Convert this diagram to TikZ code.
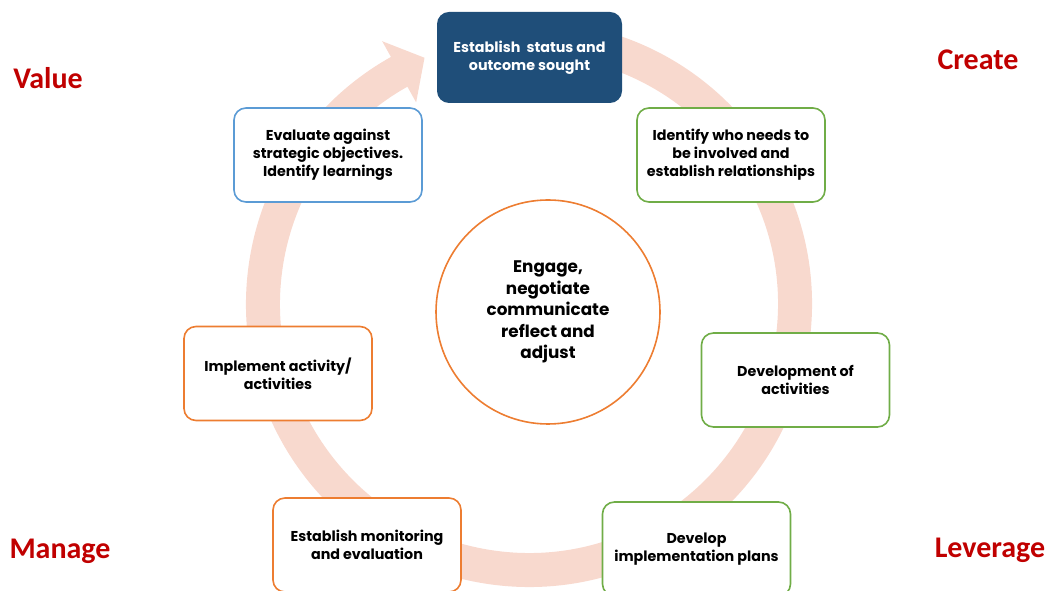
\documentclass[tikz,border=0pt]{standalone}
\usepackage{fontspec}
\setmainfont{Poppins}
\newfontfamily\labfont{Carlito}
\usetikzlibrary{calc}
\definecolor{ringc}{RGB}{248,217,206}
\definecolor{navy}{RGB}{31,78,121}
\definecolor{bblue}{RGB}{91,155,213}
\definecolor{bgreen}{RGB}{112,173,71}
\definecolor{borange}{RGB}{237,125,49}
\definecolor{lred}{RGB}{192,0,0}
\begin{document}
\begin{tikzpicture}[x=1pt,y=1pt,
  box/.style={draw, line width=1.6pt, rounded corners=12pt, minimum width=188pt, minimum height=94pt,
    align=center, fill=white, inner sep=0pt, font=\bfseries\fontsize{14.3}{18}\selectfont},
  greenbox/.style={box, draw=bgreen},
  orangebox/.style={box, draw=borange},
  bluebox/.style={box, draw=bblue},
  navybox/.style={box, draw=none, fill=navy, text=white, minimum width=185pt, minimum height=91pt},
  centre/.style={circle, draw=borange, line width=1.6pt, minimum size=224pt, align=center, fill=white,
    font=\bfseries\fontsize{16.8}{21.5}\selectfont},
  phase/.style={text=lred, font=\labfont\bfseries\fontsize{30}{32}\selectfont}
]
\path[use as bounding box] (0,0) rectangle (1049,591);
% ring with arrow
\draw[ringc, line width=34pt] (529,287) ++(80:266) arc[start angle=80, end angle=-241, radius=266] coordinate (aend);
\fill[ringc, shift={(aend)}, rotate=29] (-1,-35) -- (28,0) -- (-1,35) -- cycle;
% boxes
\node[navybox] (top) at (529.5,533.5) {Establish\ \ status and\\outcome sought};
\node[bluebox] (eval) at (328,436) {Evaluate against\\strategic objectives.\\Identify learnings};
\node[greenbox] (ident) at (731,436) {Identify who needs to\\be involved and\\establish relationships};
\node[orangebox] (impl) at (278,217.5) {Implement activity/\\activities};
\node[greenbox] (devel) at (795.5,211) {Development of\\activities};
\node[orangebox] (monit) at (367,46) {Establish monitoring\\and evaluation};
\node[greenbox] (plans) at (696.5,42) {Develop\\implementation plans};
\node[centre] (core) at (548,279) {Engage,\\negotiate\\communicate\\reflect and\\adjust};
% phase labels
\node[phase] (value) at (48,513) {Value};
\node[phase] (create) at (978,531) {Create};
\node[phase] (manage) at (60,40) {Manage};
\node[phase] (leverage) at (990,41) {Leverage};
\end{tikzpicture}
\end{document}
